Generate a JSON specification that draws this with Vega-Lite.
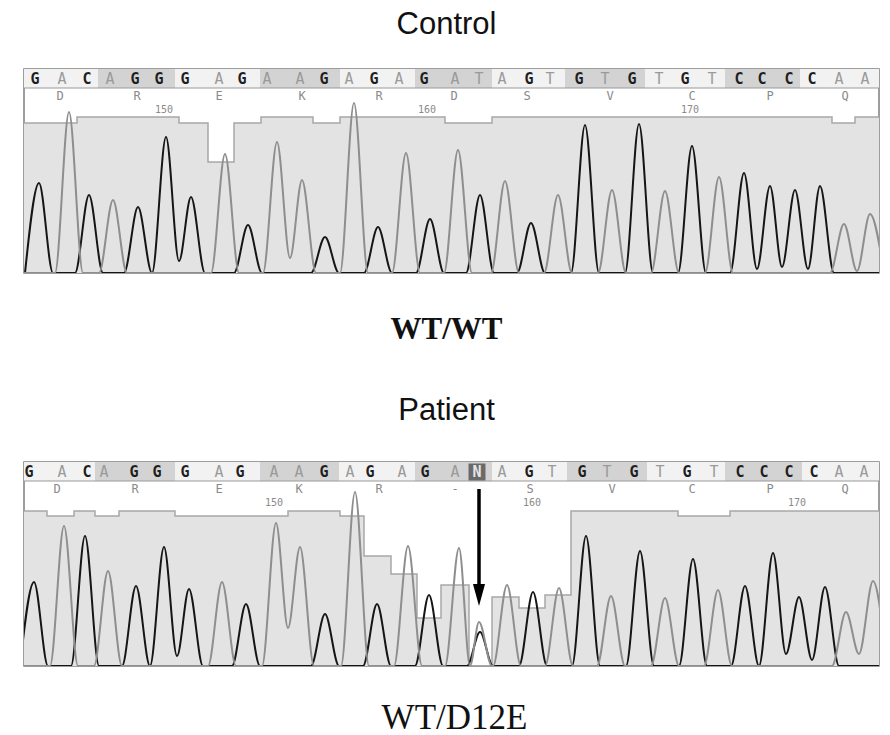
{
"$schema": "https://vega.github.io/schema/vega-lite/v6.json",
"background": "white",
"padding": {"left": 22, "top": 8, "right": 10, "bottom": 0},
"spacing": 49,
"config": {
  "view": {"stroke": "#7d7d7d", "strokeWidth": 1.5},
  "axisY": {"disable": true},
  "axisX": {"labels": false, "ticks": false, "domain": false, "grid": false, "titleFont": "Liberation Serif", "titleColor": "#111111", "titleBaseline": "alphabetic", "titlePadding": 65},
  "title": {"font": "Liberation Sans", "fontSize": 31, "fontWeight": "normal", "color": "#111111", "anchor": "middle", "baseline": "alphabetic"}
},
"datasets": {
  "cQ": [{"x":22,"y":150},{"x":75,"y":156},{"x":177,"y":150},{"x":206,"y":111},{"x":232,"y":150},{"x":259,"y":156},{"x":311,"y":150},{"x":338,"y":156},{"x":443,"y":150},{"x":490,"y":156},{"x":830,"y":150},{"x":853,"y":156},{"x":877,"y":156}],
  "pQ": [{"x":22,"y":155},{"x":45,"y":150},{"x":72,"y":155},{"x":93,"y":150},{"x":117,"y":155},{"x":173,"y":150},{"x":286,"y":155},{"x":338,"y":150},{"x":362,"y":110},{"x":389,"y":92},{"x":415,"y":48},{"x":439,"y":81},{"x":467,"y":0},{"x":490,"y":69},{"x":517,"y":58},{"x":543,"y":71},{"x":569,"y":155},{"x":676,"y":150},{"x":728,"y":155},{"x":877,"y":155}],
  "cCod": [{"x":22,"x2":96,"k":1},{"x":96,"x2":173,"k":2},{"x":173,"x2":258,"k":3},{"x":258,"x2":338,"k":4},{"x":338,"x2":413,"k":5},{"x":413,"x2":490,"k":6},{"x":490,"x2":563,"k":7},{"x":563,"x2":643,"k":8},{"x":643,"x2":723,"k":9},{"x":723,"x2":798,"k":10},{"x":798,"x2":877,"k":11}],
  "pCod": [{"x":22,"x2":93,"k":1},{"x":93,"x2":173,"k":2},{"x":173,"x2":258,"k":3},{"x":258,"x2":337,"k":4},{"x":337,"x2":413,"k":5},{"x":413,"x2":490,"k":6},{"x":490,"x2":565,"k":7},{"x":565,"x2":645,"k":8},{"x":645,"x2":723,"k":9},{"x":723,"x2":800,"k":10},{"x":800,"x2":877,"k":11}],
  "cSeq": [{"x":33,"b":"G"},{"x":60,"b":"A"},{"x":85,"b":"C"},{"x":108,"b":"A"},{"x":133,"b":"G"},{"x":157,"b":"G"},{"x":183,"b":"G"},{"x":217,"b":"A"},{"x":240,"b":"G"},{"x":265,"b":"A"},{"x":298,"b":"A"},{"x":322,"b":"G"},{"x":347,"b":"A"},{"x":372,"b":"G"},{"x":397,"b":"A"},{"x":422,"b":"G"},{"x":453,"b":"A"},{"x":477,"b":"T"},{"x":500,"b":"A"},{"x":527,"b":"G"},{"x":548,"b":"T"},{"x":577,"b":"G"},{"x":603,"b":"T"},{"x":630,"b":"G"},{"x":657,"b":"T"},{"x":683,"b":"G"},{"x":710,"b":"T"},{"x":737,"b":"C"},{"x":760,"b":"C"},{"x":787,"b":"C"},{"x":810,"b":"C"},{"x":837,"b":"A"},{"x":863,"b":"A"}],
  "pSeq": [{"x":27,"b":"G"},{"x":60,"b":"A"},{"x":85,"b":"C"},{"x":102,"b":"A"},{"x":132,"b":"G"},{"x":155,"b":"G"},{"x":183,"b":"G"},{"x":217,"b":"A"},{"x":238,"b":"G"},{"x":272,"b":"A"},{"x":297,"b":"A"},{"x":322,"b":"G"},{"x":348,"b":"A"},{"x":368,"b":"G"},{"x":400,"b":"A"},{"x":423,"b":"G"},{"x":453,"b":"A"},{"x":475,"b":"N"},{"x":500,"b":"A"},{"x":527,"b":"G"},{"x":550,"b":"T"},{"x":580,"b":"G"},{"x":605,"b":"T"},{"x":632,"b":"G"},{"x":658,"b":"T"},{"x":685,"b":"G"},{"x":712,"b":"T"},{"x":738,"b":"C"},{"x":762,"b":"C"},{"x":787,"b":"C"},{"x":812,"b":"C"},{"x":837,"b":"A"},{"x":862,"b":"A"}],
  "cAA": [{"x":58,"a":"D"},{"x":135,"a":"R"},{"x":217,"a":"E"},{"x":300,"a":"K"},{"x":377,"a":"R"},{"x":452,"a":"D"},{"x":525,"a":"S"},{"x":608,"a":"V"},{"x":690,"a":"C"},{"x":768,"a":"P"},{"x":843,"a":"Q"}],
  "pAA": [{"x":55,"a":"D"},{"x":133,"a":"R"},{"x":217,"a":"E"},{"x":297,"a":"K"},{"x":377,"a":"R"},{"x":453,"a":"-"},{"x":528,"a":"S"},{"x":610,"a":"V"},{"x":690,"a":"C"},{"x":768,"a":"P"},{"x":843,"a":"Q"}],
  "cNum": [{"x":162,"n":"150"},{"x":425,"n":"160"},{"x":688,"n":"170"}],
  "pNum": [{"x":272,"n":"150"},{"x":530,"n":"160"},{"x":795,"n":"170"}],
  "arrow": [{"x":477,"y":177,"y2":78}],
  "arrowHead": [{"x":477,"y":71}],
  "cPk": [
{"c":"k","x":23,"y":0},{"c":"k","x":37,"y":90},{"c":"k","x":51,"y":0},
{"c":"k","x":73,"y":0},{"c":"k","x":87,"y":78},{"c":"k","x":101,"y":0},
{"c":"k","x":122,"y":0},{"c":"k","x":136,"y":66},{"c":"k","x":150,"y":0},
{"c":"k","x":164,"y":136},{"c":"k","x":177,"y":12},
{"c":"k","x":189,"y":76},{"c":"k","x":203,"y":0},
{"c":"k","x":232,"y":0},{"c":"k","x":246,"y":48},{"c":"k","x":260,"y":0},
{"c":"k","x":309,"y":0},{"c":"k","x":323,"y":36},{"c":"k","x":337,"y":0},
{"c":"k","x":362,"y":0},{"c":"k","x":376,"y":46},{"c":"k","x":390,"y":0},
{"c":"k","x":414,"y":0},{"c":"k","x":428,"y":54},{"c":"k","x":442,"y":0},
{"c":"k","x":464,"y":0},{"c":"k","x":478,"y":78},{"c":"k","x":492,"y":0},
{"c":"k","x":515,"y":0},{"c":"k","x":529,"y":50},{"c":"k","x":543,"y":0},
{"c":"k","x":569,"y":0},{"c":"k","x":583,"y":148},{"c":"k","x":597,"y":0},
{"c":"k","x":623,"y":0},{"c":"k","x":637,"y":149},{"c":"k","x":651,"y":0},
{"c":"k","x":676,"y":0},{"c":"k","x":690,"y":127},{"c":"k","x":704,"y":0},
{"c":"k","x":728,"y":0},{"c":"k","x":742,"y":100},{"c":"k","x":755,"y":4},
{"c":"k","x":768,"y":87},{"c":"k","x":780,"y":6},
{"c":"k","x":793,"y":83},{"c":"k","x":806,"y":4},
{"c":"k","x":818,"y":87},{"c":"k","x":832,"y":0},{"c":"k","x":877,"y":0},
{"c":"g","x":22,"y":0},
{"c":"g","x":53,"y":0},{"c":"g","x":67,"y":161},{"c":"g","x":81,"y":0},
{"c":"g","x":97,"y":0},{"c":"g","x":111,"y":73},{"c":"g","x":125,"y":0},
{"c":"g","x":209,"y":0},{"c":"g","x":223,"y":119},{"c":"g","x":237,"y":0},
{"c":"g","x":261,"y":0},{"c":"g","x":275,"y":131},{"c":"g","x":288,"y":15},
{"c":"g","x":300,"y":93},{"c":"g","x":314,"y":0},
{"c":"g","x":338,"y":0},{"c":"g","x":352,"y":170},{"c":"g","x":366,"y":0},
{"c":"g","x":390,"y":0},{"c":"g","x":404,"y":120},{"c":"g","x":418,"y":0},
{"c":"g","x":442,"y":0},{"c":"g","x":456,"y":123},{"c":"g","x":470,"y":0},
{"c":"g","x":489,"y":0},{"c":"g","x":503,"y":92},{"c":"g","x":517,"y":0},
{"c":"g","x":542,"y":0},{"c":"g","x":556,"y":78},{"c":"g","x":570,"y":0},
{"c":"g","x":596,"y":0},{"c":"g","x":610,"y":83},{"c":"g","x":624,"y":0},
{"c":"g","x":649,"y":0},{"c":"g","x":663,"y":82},{"c":"g","x":677,"y":0},
{"c":"g","x":703,"y":0},{"c":"g","x":717,"y":96},{"c":"g","x":731,"y":0},
{"c":"g","x":828,"y":0},{"c":"g","x":842,"y":49},{"c":"g","x":855,"y":2},
{"c":"g","x":868,"y":59},{"c":"g","x":882,"y":0}
  ],
  "pPk": [
{"c":"k","x":18,"y":0},{"c":"k","x":32,"y":84},{"c":"k","x":46,"y":0},
{"c":"k","x":69,"y":0},{"c":"k","x":83,"y":130},{"c":"k","x":97,"y":0},
{"c":"k","x":120,"y":0},{"c":"k","x":134,"y":80},{"c":"k","x":148,"y":0},
{"c":"k","x":162,"y":119},{"c":"k","x":175,"y":10},
{"c":"k","x":187,"y":77},{"c":"k","x":201,"y":0},
{"c":"k","x":230,"y":0},{"c":"k","x":244,"y":62},{"c":"k","x":258,"y":0},
{"c":"k","x":309,"y":0},{"c":"k","x":323,"y":52},{"c":"k","x":337,"y":0},
{"c":"k","x":361,"y":0},{"c":"k","x":375,"y":62},{"c":"k","x":389,"y":0},
{"c":"k","x":413,"y":0},{"c":"k","x":427,"y":71},{"c":"k","x":441,"y":0},
{"c":"k","x":465,"y":0},{"c":"k","x":478,"y":34},{"c":"k","x":491,"y":0},
{"c":"k","x":517,"y":0},{"c":"k","x":531,"y":74},{"c":"k","x":545,"y":0},
{"c":"k","x":570,"y":0},{"c":"k","x":584,"y":130},{"c":"k","x":598,"y":0},
{"c":"k","x":624,"y":0},{"c":"k","x":638,"y":115},{"c":"k","x":652,"y":0},
{"c":"k","x":677,"y":0},{"c":"k","x":691,"y":107},{"c":"k","x":705,"y":0},
{"c":"k","x":729,"y":0},{"c":"k","x":743,"y":80},{"c":"k","x":757,"y":0},
{"c":"k","x":771,"y":113},{"c":"k","x":784,"y":12},
{"c":"k","x":797,"y":69},{"c":"k","x":810,"y":6},
{"c":"k","x":823,"y":79},{"c":"k","x":837,"y":0},{"c":"k","x":877,"y":0},
{"c":"g","x":22,"y":0},
{"c":"g","x":48,"y":0},{"c":"g","x":62,"y":140},{"c":"g","x":76,"y":0},
{"c":"g","x":92,"y":0},{"c":"g","x":106,"y":95},{"c":"g","x":120,"y":0},
{"c":"g","x":206,"y":0},{"c":"g","x":220,"y":84},{"c":"g","x":234,"y":0},
{"c":"g","x":260,"y":0},{"c":"g","x":274,"y":143},{"c":"g","x":286,"y":38},
{"c":"g","x":298,"y":119},{"c":"g","x":312,"y":0},
{"c":"g","x":339,"y":0},{"c":"g","x":353,"y":174},{"c":"g","x":367,"y":0},
{"c":"g","x":392,"y":0},{"c":"g","x":406,"y":120},{"c":"g","x":420,"y":0},
{"c":"g","x":443,"y":0},{"c":"g","x":457,"y":118},{"c":"g","x":468,"y":0},
{"c":"g","x":477,"y":44},{"c":"g","x":490,"y":0},
{"c":"g","x":491,"y":0},{"c":"g","x":505,"y":81},{"c":"g","x":519,"y":0},
{"c":"g","x":543,"y":0},{"c":"g","x":557,"y":78},{"c":"g","x":571,"y":0},
{"c":"g","x":595,"y":0},{"c":"g","x":609,"y":70},{"c":"g","x":623,"y":0},
{"c":"g","x":649,"y":0},{"c":"g","x":663,"y":68},{"c":"g","x":677,"y":0},
{"c":"g","x":702,"y":0},{"c":"g","x":716,"y":76},{"c":"g","x":730,"y":0},
{"c":"g","x":830,"y":0},{"c":"g","x":844,"y":54},{"c":"g","x":857,"y":12},
{"c":"g","x":871,"y":85},{"c":"g","x":885,"y":0}
  ]
},
"vconcat": [
{
  "width": 855, "height": 204,
  "title": {"text": "Control", "offset": 28, "dx": -5},
  "encoding": {
    "x": {"field": "x", "type": "quantitative", "scale": {"domain": [22, 877], "nice": false, "zero": false}, "axis": {"title": "WT/WT", "titleFontWeight": "bold", "titleFontSize": 31, "titleX": 422}}
  },
  "resolve": {"scale": {"fill": "independent", "stroke": "independent"}},
  "layer": [
    {"data": {"name": "cQ"}, "mark": {"type": "area", "interpolate": "step-after", "color": "#e3e3e3", "clip": true},
     "encoding": {"y": {"field": "y", "type": "quantitative", "scale": {"domain": [0, 204], "nice": false, "zero": false}}}},
    {"data": {"name": "cQ"}, "mark": {"type": "line", "interpolate": "step-after", "color": "#a8a8a8", "strokeWidth": 1.5, "clip": true},
     "encoding": {"y": {"field": "y", "type": "quantitative"}}},
    {"data": {"name": "cCod"}, "mark": {"type": "rect"},
     "encoding": {"x2": {"field": "x2"}, "y": {"datum": 185}, "y2": {"datum": 204},
       "fill": {"field": "k", "type": "nominal", "scale": {"domain": [1,2,3,4,5,6,7,8,9,10,11], "range": ["#f2f2f2","#d3d3d3","#f2f2f2","#d3d3d3","#f2f2f2","#d3d3d3","#f2f2f2","#d3d3d3","#f2f2f2","#d3d3d3","#f2f2f2"]}, "legend": null}}},
    {"data": {"name": "cCod"}, "mark": {"type": "rule", "color": "#9a9a9a", "strokeWidth": 1.2},
     "encoding": {"x2": {"field": "x2"}, "y": {"datum": 185}}},
    {"data": {"name": "cSeq"}, "transform": [{"filter": {"field": "b", "oneOf": ["G", "C"]}}],
     "mark": {"type": "text", "font": "DejaVu Sans Mono", "fontWeight": "bold", "fontSize": 15, "color": "#1e1e1e"},
     "encoding": {"y": {"datum": 194}, "text": {"field": "b"}}},
    {"data": {"name": "cSeq"}, "transform": [{"filter": {"field": "b", "oneOf": ["A", "T"]}}],
     "mark": {"type": "text", "font": "DejaVu Sans Mono", "fontWeight": "normal", "fontSize": 15, "color": "#9a9a9a"},
     "encoding": {"y": {"datum": 194}, "text": {"field": "b"}}},
    {"data": {"name": "cAA"}, "mark": {"type": "text", "font": "DejaVu Sans Mono", "fontSize": 12, "color": "#8a8a8a"},
     "encoding": {"y": {"datum": 177}, "text": {"field": "a"}}},
    {"data": {"name": "cNum"}, "mark": {"type": "text", "font": "DejaVu Sans Mono", "fontSize": 10, "color": "#8a8a8a"},
     "encoding": {"y": {"datum": 163}, "text": {"field": "n"}}},
    {"data": {"name": "cPk"}, "mark": {"type": "line", "interpolate": "monotone", "strokeWidth": 2, "clip": true},
     "encoding": {"y": {"field": "y", "type": "quantitative"}, "stroke": {"field": "c", "type": "nominal", "scale": {"domain": ["g", "k"], "range": ["#8e8e8e", "#151515"]}, "legend": null}}}
  ]
},
{
  "width": 855, "height": 204,
  "title": {"text": "Patient", "offset": 35, "dx": -5},
  "encoding": {
    "x": {"field": "x", "type": "quantitative", "scale": {"domain": [22, 877], "nice": false, "zero": false}, "axis": {"title": "WT/D12E", "titleFontWeight": "normal", "titleFontSize": 35, "titleX": 430, "titlePadding": 62}}
  },
  "resolve": {"scale": {"fill": "independent", "stroke": "independent"}},
  "layer": [
    {"data": {"name": "pQ"}, "mark": {"type": "area", "interpolate": "step-after", "color": "#e3e3e3", "clip": true},
     "encoding": {"y": {"field": "y", "type": "quantitative", "scale": {"domain": [0, 204], "nice": false, "zero": false}}}},
    {"data": {"name": "pQ"}, "mark": {"type": "line", "interpolate": "step-after", "color": "#a8a8a8", "strokeWidth": 1.5, "clip": true},
     "encoding": {"y": {"field": "y", "type": "quantitative"}}},
    {"data": {"name": "pCod"}, "mark": {"type": "rect"},
     "encoding": {"x2": {"field": "x2"}, "y": {"datum": 185}, "y2": {"datum": 204},
       "fill": {"field": "k", "type": "nominal", "scale": {"domain": [1,2,3,4,5,6,7,8,9,10,11], "range": ["#f2f2f2","#d3d3d3","#f2f2f2","#d3d3d3","#f2f2f2","#d3d3d3","#f2f2f2","#d3d3d3","#f2f2f2","#d3d3d3","#f2f2f2"]}, "legend": null}}},
    {"data": {"name": "pCod"}, "mark": {"type": "rule", "color": "#9a9a9a", "strokeWidth": 1.2},
     "encoding": {"x2": {"field": "x2"}, "y": {"datum": 185}}},
    {"data": {"name": "pSeq"}, "transform": [{"filter": {"field": "b", "equal": "N"}}],
     "mark": {"type": "point", "shape": "square", "filled": true, "size": 289, "color": "#6a6a6a", "opacity": 1},
     "encoding": {"y": {"datum": 194}}},
    {"data": {"name": "pSeq"}, "transform": [{"filter": {"field": "b", "oneOf": ["G", "C"]}}],
     "mark": {"type": "text", "font": "DejaVu Sans Mono", "fontWeight": "bold", "fontSize": 15, "color": "#1e1e1e"},
     "encoding": {"y": {"datum": 194}, "text": {"field": "b"}}},
    {"data": {"name": "pSeq"}, "transform": [{"filter": {"field": "b", "oneOf": ["A", "T"]}}],
     "mark": {"type": "text", "font": "DejaVu Sans Mono", "fontWeight": "normal", "fontSize": 15, "color": "#9a9a9a"},
     "encoding": {"y": {"datum": 194}, "text": {"field": "b"}}},
    {"data": {"name": "pSeq"}, "transform": [{"filter": {"field": "b", "equal": "N"}}],
     "mark": {"type": "text", "font": "DejaVu Sans Mono", "fontWeight": "bold", "fontSize": 15, "color": "#e6e6e6"},
     "encoding": {"y": {"datum": 194}, "text": {"field": "b"}}},
    {"data": {"name": "pAA"}, "mark": {"type": "text", "font": "DejaVu Sans Mono", "fontSize": 12, "color": "#8a8a8a"},
     "encoding": {"y": {"datum": 177}, "text": {"field": "a"}}},
    {"data": {"name": "pNum"}, "mark": {"type": "text", "font": "DejaVu Sans Mono", "fontSize": 10, "color": "#8a8a8a"},
     "encoding": {"y": {"datum": 163}, "text": {"field": "n"}}},
    {"data": {"name": "pPk"}, "mark": {"type": "line", "interpolate": "monotone", "strokeWidth": 2, "clip": true},
     "encoding": {"y": {"field": "y", "type": "quantitative"}, "stroke": {"field": "c", "type": "nominal", "scale": {"domain": ["g", "k"], "range": ["#8e8e8e", "#151515"]}, "legend": null}}},
    {"data": {"name": "arrow"}, "mark": {"type": "rule", "color": "#000000", "strokeWidth": 3.5},
     "encoding": {"y": {"field": "y", "type": "quantitative"}, "y2": {"field": "y2"}}},
    {"data": {"name": "arrowHead"}, "mark": {"type": "point", "shape": "M-0.55,-1L0.55,-1L0,1Z", "filled": true, "size": 484, "color": "#000000", "opacity": 1},
     "encoding": {"y": {"field": "y", "type": "quantitative"}}}
  ]
}
]
}
